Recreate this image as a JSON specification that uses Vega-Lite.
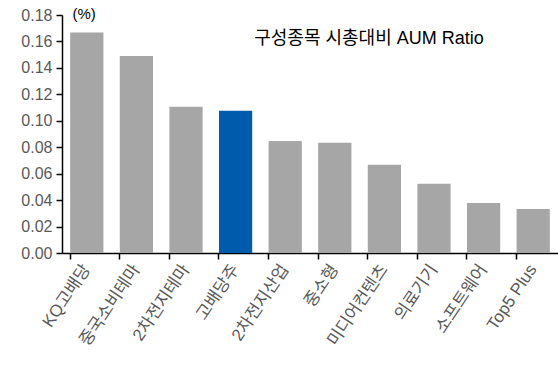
{
  "$schema": "https://vega.github.io/schema/vega-lite/v6.json",
  "width": 496,
  "height": 238,
  "autosize": {"type": "none"},
  "padding": {"left": 62, "top": 15, "right": 0, "bottom": 118},
  "background": "white",
  "config": {
    "view": {"stroke": null},
    "font": "Liberation Sans, Noto Sans CJK KR",
    "axis": {
      "labelFont": "Liberation Sans, Noto Sans CJK KR",
      "labelColor": "#595959",
      "domainColor": "#000000",
      "tickColor": "#000000",
      "domainWidth": 1.5,
      "tickWidth": 1.5,
      "tickSize": 6,
      "grid": false
    }
  },
  "title": {
    "text": "구성종목 시총대비 AUM Ratio",
    "font": "Liberation Sans, Noto Sans CJK KR",
    "fontSize": 18,
    "fontWeight": "normal",
    "color": "#000000",
    "anchor": "middle",
    "frame": "group",
    "dx": 59,
    "offset": -42
  },
  "data": {
    "values": [
      {"name": "KQ고배당", "ratio": 0.1667},
      {"name": "중국소비테마", "ratio": 0.149},
      {"name": "2차전지테마", "ratio": 0.1106},
      {"name": "고배당주", "ratio": 0.1076},
      {"name": "2차전지산업", "ratio": 0.0848},
      {"name": "중소형", "ratio": 0.0833},
      {"name": "미디어컨텐츠", "ratio": 0.0667},
      {"name": "의료기기", "ratio": 0.0523},
      {"name": "소프트웨어", "ratio": 0.0379},
      {"name": "Top5 Plus", "ratio": 0.0333}
    ]
  },
  "mark": {"type": "bar"},
  "encoding": {
    "x": {
      "field": "name",
      "type": "nominal",
      "sort": null,
      "scale": {"paddingInner": 0.33, "paddingOuter": 0.165},
      "axis": {
        "title": null,
        "labelAngle": -56,
        "labelAlign": "right",
        "labelBaseline": "middle",
        "labelFontSize": 17,
        "labelPadding": 7,
        "bandPosition": 0,
        "labelOffset": 0
      }
    },
    "y": {
      "field": "ratio",
      "type": "quantitative",
      "scale": {"domain": [0, 0.18], "nice": false},
      "axis": {
        "values": [0, 0.02, 0.04, 0.06, 0.08, 0.1, 0.12, 0.14, 0.16, 0.18],
        "format": ".2f",
        "labelFontSize": 16,
        "labelPadding": 4,
        "title": "(%)",
        "titleFont": "Liberation Sans",
        "titleFontSize": 15,
        "titleFontWeight": "normal",
        "titleColor": "#000000",
        "titleAngle": 0,
        "titleAlign": "left",
        "titleBaseline": "alphabetic",
        "titleX": 10,
        "titleY": 3
      }
    },
    "color": {
      "condition": {"test": "datum.name === '고배당주'", "value": "#005BAC"},
      "value": "#A6A6A6"
    }
  }
}
